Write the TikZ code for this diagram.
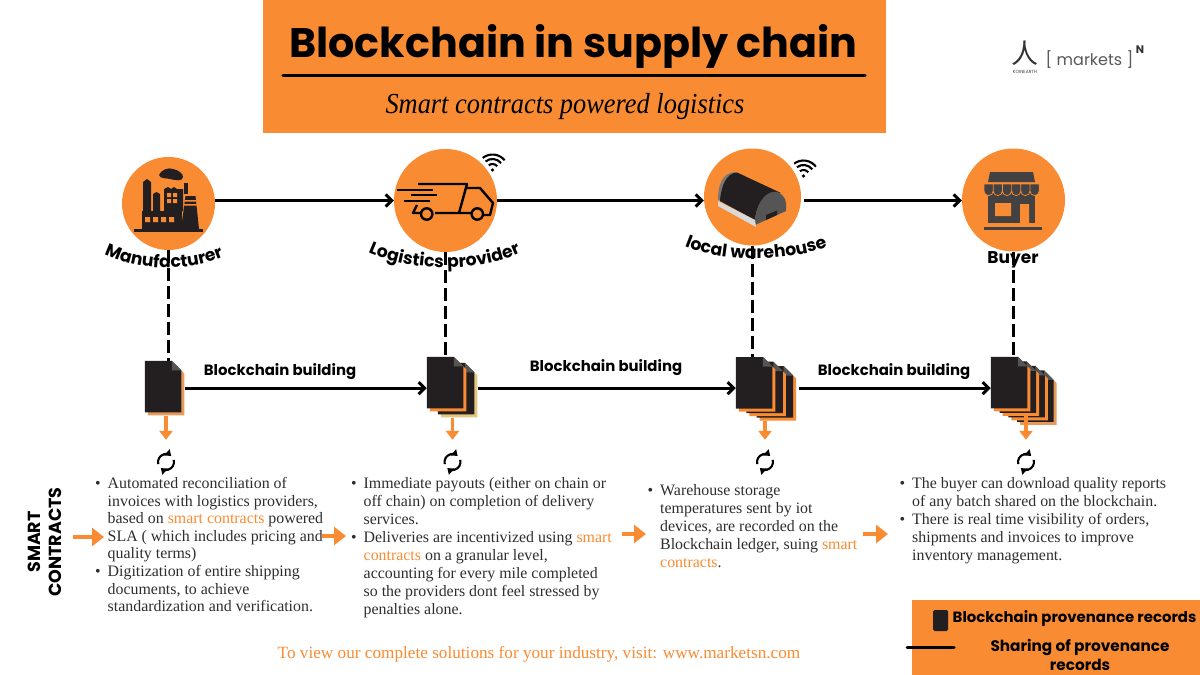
\documentclass[tikz,border=0pt]{standalone}
\usepackage{fontspec}
\setmainfont{Liberation Serif}
\newfontfamily\spartan{Poppins}
\newfontfamily\narrowserif[FakeStretch=0.91]{Liberation Serif}
\newfontfamily\cjk{Noto Sans CJK SC}
\usepackage{xcolor}
\usetikzlibrary{arrows.meta,positioning,calc,decorations.text}
\definecolor{brandorange}{HTML}{F98B32}
\definecolor{sheetdark}{HTML}{231F20}
\definecolor{sheetfold}{HTML}{555555}
\definecolor{sheettan}{HTML}{E3C77C}
\definecolor{sheetpeach}{HTML}{E69A5C}
\definecolor{bodygrey}{HTML}{2E2E2E}
\newcommand{\hl}[1]{\textcolor{brandorange}{#1}}
\newcommand{\itm}{\llap{\textbullet\hspace{7pt}}}
\tikzset{
  stepcircle/.style={circle, fill=brandorange, inner sep=0pt},
  flowline/.style={line width=3.1pt, -{Straight Barb[length=6pt,width=12pt,line width=3pt]}},
  linkline/.style={line width=2.6pt, dash pattern=on 13pt off 5pt},
  dropline/.style={brandorange, line width=3.2pt, -{Triangle[length=9pt,width=13pt]}, shorten >=9pt},
  passline/.style={brandorange, line width=4.5pt, -{Triangle[length=12pt,width=18pt]}},
  buildlabel/.style={font=\spartan\bfseries\fontsize{14.9}{18}\selectfont},
  sidelabel/.style={font=\spartan\bfseries\fontsize{17.5}{19}\selectfont, align=center, rotate=90},
  bodytext/.style={font=\fontsize{15.9}{18}\selectfont, text=bodygrey, align=left, inner sep=0pt, anchor=north west},
  docsheet/.style={minimum width=39.5pt, minimum height=54.5pt, inner sep=0pt, path picture={
    \fill[#1] ([xshift=3pt,yshift=-3pt]path picture bounding box.north west) -- ([xshift=-9.5pt,yshift=-3pt]path picture bounding box.north east) -- ([yshift=-12.5pt]path picture bounding box.north east) -- (path picture bounding box.south east) -- ([xshift=3pt]path picture bounding box.south west) -- cycle;
    \fill[sheetdark] (path picture bounding box.north west) -- ([xshift=-12.5pt]path picture bounding box.north east) -- ([xshift=-3pt,yshift=-9.5pt]path picture bounding box.north east) -- ([xshift=-3pt,yshift=3pt]path picture bounding box.south east) -- ([yshift=3pt]path picture bounding box.south west) -- cycle;
    \fill[sheetfold] ([xshift=-12.5pt]path picture bounding box.north east) -- ([xshift=-12.5pt,yshift=-9.5pt]path picture bounding box.north east) -- ([xshift=-3pt,yshift=-9.5pt]path picture bounding box.north east) -- cycle;
  }},
  syncicon/.style={minimum size=26pt, inner sep=0pt, path picture={
    \draw[line width=2.1pt, -{Triangle[length=5.5pt,width=8pt]}] ([shift={(195:8)}]path picture bounding box.center) arc (195:50:8);
    \draw[line width=2.1pt, -{Triangle[length=5.5pt,width=8pt]}] ([shift={(15:8)}]path picture bounding box.center) arc (15:-130:8);
  }},
  wifimark/.pic={
    \fill (0,0) circle (1.8);
    \draw[line width=2.1pt] (45:6) arc (45:135:6);
    \draw[line width=2.1pt] (45:11) arc (45:135:11);
    \draw[line width=2.1pt] (45:15.5) arc (45:135:15.5);
  },
  curvedlabel/.style={decorate, decoration={text along path, text align=center, text={|\spartan\bfseries\fontsize{17.2}{20}\selectfont|#1}}}
}
\begin{document}
\begin{tikzpicture}[x=1pt, y=1pt, >=Latex]
\useasboundingbox (0,0) rectangle (1200,-675);
\fill[white] (0,0) rectangle (1200,-675);

\node[fill=brandorange, minimum width=623pt, minimum height=133pt, inner sep=0pt] (banner) at (574.5,-66.5) {};
\node[font=\spartan\bfseries\fontsize{41.2}{48}\selectfont] (headline) at (573.5,-46) {Blockchain in supply chain};
\coordinate (rulea) at (283,-75.5);
\coordinate (ruleb) at (865,-75.5);
\draw[line width=3.4pt, line cap=round] (rulea) -- (ruleb);
\node[font=\narrowserif\itshape\fontsize{29}{32}\selectfont] (subhead) at (565,-107) {Smart contracts powered logistics};

\node[font=\cjk\fontsize{27}{30}\selectfont, text=black!80] (logomark) at (1025,-53) {人};
\node[font=\spartan\fontsize{4.5}{5}\selectfont, below=-2pt of logomark, text=black!75] (logoword) {KOINEARTH};
\node[font=\spartan\fontsize{16}{20}\selectfont, text=black!65] (logotext) at (1089.5,-60) {[ markets ]};
\node[font=\spartan\bfseries\fontsize{11}{12}\selectfont, text=black!80] (logosup) at (1140,-50) {N};

\node[stepcircle, minimum size=93pt] (manu) at (168.5,-203.5) {};
\node[stepcircle, minimum size=103pt] (logi) at (445.5,-200.5) {};
\node[stepcircle, minimum size=97pt] (ware) at (752.5,-197) {};
\node[stepcircle, minimum size=103pt] (shop) at (1013.5,-200) {};

\fill[sheetdark] (134,-229) rectangle (203,-232);
\fill[sheetdark] (143,-182) -- (147,-179) -- (151,-182) -- (151,-211) -- (143,-211) -- cycle;
\fill[sheetdark] (153,-194) -- (156.5,-192) -- (160,-194) -- (160,-211) -- (153,-211) -- cycle;
\fill[sheetdark] (164,-211) -- (164,-189) -- (168,-187) -- (171,-189) -- (174,-187) -- (177,-189) -- (183,-189) -- (183,-211) -- cycle;
\fill[sheetdark] (142,-211) rectangle (182,-229);
\fill[sheetdark] (183.5,-183) rectangle (187.5,-194);
\fill[sheetdark] (181,-229) -- (185.5,-196) -- (195.5,-196) -- (199,-229) -- cycle;
\fill[sheetdark] (159,-175) .. controls (161,-170) and (168,-167) .. (173,-169) .. controls (178,-170) and (183,-173) .. (183,-177) .. controls (183,-182) and (174,-180) .. (170,-179) .. controls (166,-178) and (160,-179) .. (159,-175) -- cycle;
\fill[brandorange] (145,-217) rectangle (150,-222) (153,-217) rectangle (158,-222) (161,-217) rectangle (166,-222) (169,-217) rectangle (174,-222);
\fill[brandorange] (167,-193) rectangle (171,-197) (173,-193) rectangle (177,-197) (167,-199) rectangle (171,-203) (173,-199) rectangle (177,-203);
\fill[brandorange] (184.5,-200) rectangle (196,-201.5) (184,-204) rectangle (196.5,-205.5);

\draw[line width=2.4pt, line join=round] (418,-184) -- (467,-184) -- (459,-213) -- (435,-213) (467,-188) -- (480,-188) -- (493,-203) -- (490,-215) -- (484,-215) (472,-213) -- (459,-213) (421,-213) -- (413,-213) -- (417,-205);
\draw[line width=2.4pt] (426.7,-214) circle (5.7) (477.3,-214) circle (5.7);
\draw[line width=2.4pt] (397,-190) -- (433,-190) (411,-195) -- (437,-195) (404,-201) -- (430,-201);
\pic[rotate=-6] at (492.5,-170) {wifimark};

\fill[sheetfold!80] (718,-200) .. controls (718,-185) and (722,-173) .. (735,-172) -- (745,-176) -- (730,-201) -- cycle;
\fill[sheetdark] (720,-201) .. controls (721,-185) and (727,-173) .. (737,-172.5) -- (781,-193) .. controls (768,-190) and (757,-200) .. (755,-220) -- cycle;
\fill[sheetfold] (755,-225) -- (755,-220) .. controls (757,-200) and (768,-190) .. (777,-192) .. controls (781,-193) and (786,-198) .. (786,-203) -- (786,-211) -- cycle;
\fill[black!15] (718,-201) -- (755,-220) -- (756,-227) -- (718,-206) -- cycle;
\fill[sheetdark] (766,-215) -- (777,-210.5) -- (777,-215) -- (766,-220) -- cycle;
\pic[rotate=-8] at (803.5,-176) {wifimark};

\fill[sheetdark!85] (990,-172) -- (1033,-172) -- (1035,-182) -- (988,-182) -- cycle;
\fill[sheetdark!85] (988,-193) rectangle (1035,-223);
\fill[sheetdark!85, draw=brandorange, line width=0.7pt] (984,-184) -- (1039.2,-184) -- (1039.2,-191) arc (0:-180:4.6) -- (1030,-184) -- (1030,-191) arc (0:-180:4.6) -- (1020.8,-184) -- (1020.8,-191) arc (0:-180:4.6) -- (1011.6,-184) -- (1011.6,-191) arc (0:-180:4.6) -- (1002.4,-184) -- (1002.4,-191) arc (0:-180:4.6) -- (993.2,-184) -- (993.2,-191) arc (0:-180:4.6) -- cycle;
\fill[brandorange] (995,-203) rectangle (1011,-216) (1020,-204) rectangle (1029,-223);
\fill[sheetdark!85] (984,-227) rectangle (1042,-230);

\draw[flowline] (manu.east |- logi.west) -- (logi.west);
\draw[flowline] (logi.east) -- (logi.east -| ware.west);
\draw[flowline, shorten <=3pt] (ware.east |- logi.east) -- (logi.east -| shop.west);

\path[curvedlabel={Manufacturer}] (102,-253) .. controls (140,-272) and (190,-272) .. (226,-256);
\path[curvedlabel={Logistics provider}] (365,-251) .. controls (410,-273) and (480,-273) .. (524,-251);
\path[curvedlabel={local warehouse}] (681,-245) .. controls (720,-263) and (790,-263) .. (831,-245);
\node[font=\spartan\bfseries\fontsize{17}{20}\selectfont] (buyerlabel) at (1013,-260) {Buyer};

\node[docsheet=sheetpeach] (docaa) at (164.7,-388.2) {};

\node[docsheet=sheettan] (docbb) at (457.7,-390.2) {};
\node[docsheet=brandorange] (docba) at ([shift={(-11,6)}]docbb) {};

\node[docsheet=brandorange] (doccc) at (776.3,-393.3) {};
\node[docsheet=brandorange] (doccb) at ([shift={(-10.3,4.5)}]doccc) {};
\node[docsheet=brandorange] (docca) at ([shift={(-10.3,4.5)}]doccb) {};

\node[docsheet=sheetpeach] (docdd) at (1036.8,-397.7) {};
\node[docsheet=brandorange] (docdc) at ([shift={(-8.7,4.5)}]docdd) {};
\node[docsheet=brandorange] (docdb) at ([shift={(-8.7,4.5)}]docdc) {};
\node[docsheet=brandorange] (docda) at ([shift={(-8.7,4.5)}]docdb) {};

\draw[linkline] (manu.south) -- (manu.south |- docaa.north);
\draw[linkline] (logi.south) -- (logi.south |- docba.north);
\draw[linkline] (ware.south) -- (ware.south |- docca.north);
\draw[linkline] (shop.south) -- (shop.south |- docda.north);

\draw[flowline] (docaa.east) -- (docaa.east -| docba.west);
\draw[flowline] (docbb.east |- docaa.east) -- (docaa.east -| docca.west);
\draw[flowline, shorten <=3pt] (doccc.east |- docaa.east) -- (docaa.east -| docda.west);
\node[buildlabel] (builda) at (280,-372) {Blockchain building};
\node[buildlabel] (buildb) at (606,-368) {Blockchain building};
\node[buildlabel] (buildc) at (894,-372) {Blockchain building};

\node[syncicon] (synca) at (166,-462) {};
\node[syncicon] (syncb) at (452.5,-462) {};
\node[syncicon] (syncc) at (765,-462) {};
\node[syncicon] (syncd) at (1026,-462) {};
\draw[dropline] (docaa.south -| synca) -- (synca.north);
\draw[dropline] (docbb.south -| syncb) -- (syncb.north);
\draw[dropline] (doccc.south -| syncc) -- (syncc.north);
\draw[dropline] (docdb.south -| syncd) -- (syncd.north);

\node[sidelabel] (smartlabel) at (45,-542) {SMART\\[2pt]CONTRACTS};

\node[bodytext, font=\fontsize{15.9}{17.6}\selectfont] (cola) at (107.5,-477) {\itm Automated reconciliation of\\invoices with logistics providers,\\based on \hl{smart contracts} powered\\SLA ( which includes pricing and\\quality terms)\\\itm Digitization of entire shipping\\documents, to achieve\\standardization and verification.};
\node[bodytext] (colb) at (363.5,-477) {\itm Immediate payouts (either on chain or\\off chain) on completion of delivery\\services.\\\itm Deliveries are incentivized using \hl{smart}\\\hl{contracts} on a granular level,\\accounting for every mile completed\\so the providers dont feel stressed by\\penalties alone.};
\node[bodytext] (colc) at (660,-484) {\itm Warehouse storage\\temperatures sent by iot\\devices, are recorded on the\\Blockchain ledger, suing \hl{smart}\\\hl{contracts}.};
\node[bodytext] (cold) at (912,-477) {\itm The buyer can download quality reports\\of any batch shared on the blockchain.\\\itm There is real time visibility of orders,\\shipments and invoices to improve\\inventory management.};

\coordinate (passas) at (73,-537);
\coordinate (passae) at (104,-537);
\coordinate (passbs) at (322,-536);
\coordinate (passbe) at (346,-536);
\coordinate (passcs) at (622,-534);
\coordinate (passce) at (646,-534);
\coordinate (passds) at (863,-534);
\coordinate (passde) at (888,-534);
\draw[passline] (passas) -- (passae);
\draw[passline] (passbs) -- (passbe);
\draw[passline] (passcs) -- (passce);
\draw[passline] (passds) -- (passde);

\node[font=\fontsize{17.2}{20}\selectfont, text=brandorange] (visitline) at (539,-654) {To view our complete solutions for your industry, visit: www.marketsn.com};

\node[fill=brandorange, minimum width=288pt, minimum height=75pt, inner sep=0pt] (legendbox) at (1056,-637.5) {};
\node[fill=sheetdark, rounded corners=1.5pt, minimum width=15pt, minimum height=21pt, inner sep=0pt] (legendsheet) at (940.5,-620.5) {};
\node[font=\spartan\bfseries\fontsize{14.9}{17}\selectfont] (legenda) at (1074.5,-619) {Blockchain provenance records};
\node[font=\spartan\bfseries\fontsize{15.3}{19.5}\selectfont, align=center] (legendb) at (1080,-655) {Sharing of provenance\\records};
\coordinate (legendla) at (907,-647);
\coordinate (legendlb) at (954,-647);
\draw[line width=3pt, line cap=round] (legendla) -- (legendlb);
\end{tikzpicture}
\end{document}
